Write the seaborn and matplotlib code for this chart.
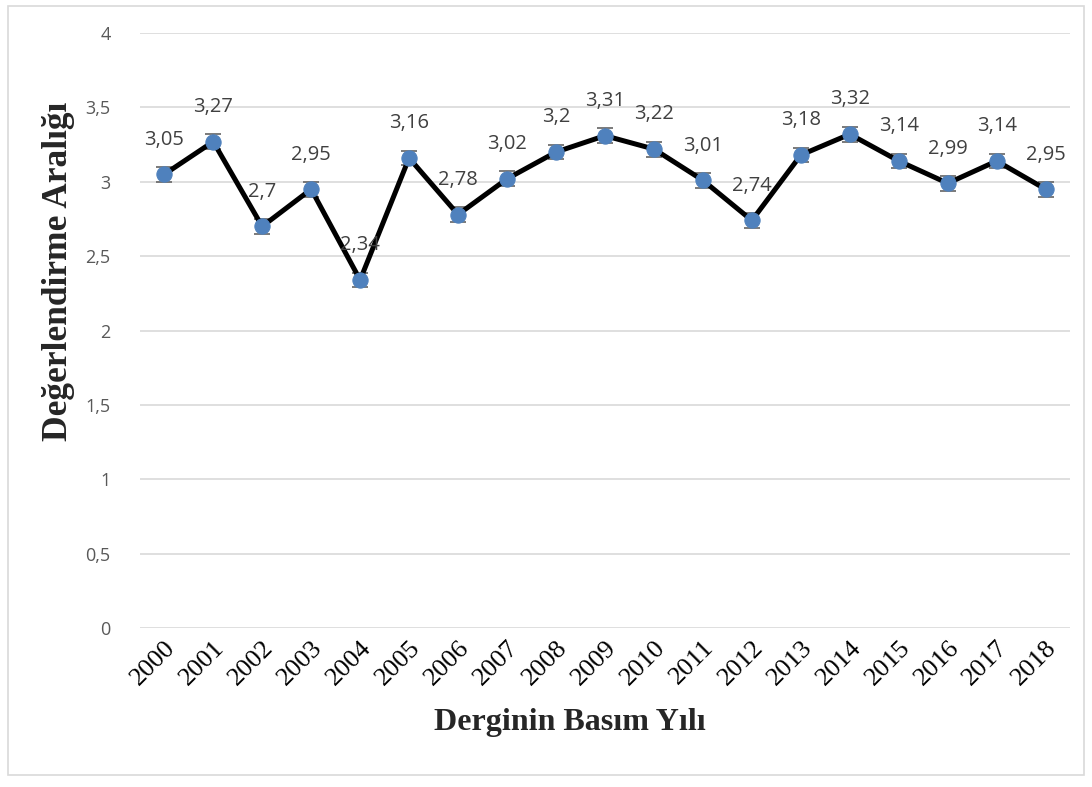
import matplotlib
matplotlib.use("Agg")
import matplotlib.pyplot as plt
import seaborn as sns
import pandas as pd
from matplotlib.patches import Rectangle

years = ["2000", "2001", "2002", "2003", "2004", "2005", "2006", "2007", "2008", "2009",
         "2010", "2011", "2012", "2013", "2014", "2015", "2016", "2017", "2018"]
values = [3.05, 3.27, 2.70, 2.95, 2.34, 3.16, 2.78, 3.02, 3.20, 3.31,
          3.22, 3.01, 2.74, 3.18, 3.32, 3.14, 2.99, 3.14, 2.95]
errors = [0.05] * len(values)
y_ticks = [0, 0.5, 1, 1.5, 2, 2.5, 3, 3.5, 4]

sns.set_theme(style="white")
plt.rcParams['font.family'] = ['Open Sans', 'DejaVu Sans']

df = pd.DataFrame({"year": years, "value": values, "pos": range(len(years))})

fig = plt.figure(figsize=(10.92, 7.87), dpi=100)
ax = fig.add_axes([0.128, 0.202, 0.852, 0.756])

ax.errorbar(df["pos"], df["value"], yerr=errors, fmt="none", ecolor="#6F6F6F",
            elinewidth=1.3, capsize=6, capthick=1.3, zorder=2)
sns.lineplot(data=df, x="pos", y="value", ax=ax, color="black", linewidth=3.6,
             marker="o", markersize=11, markerfacecolor="#4F81BD",
             markeredgecolor="#4F81BD", zorder=3)

def fmt(v):
    s = f"{v:.2f}".rstrip("0").rstrip(".")
    return s.replace(".", ",")

for p, v in zip(df["pos"], df["value"]):
    ax.annotate(fmt(v), (p, v), xytext=(0, 25), textcoords="offset points",
                ha="center", va="center", fontsize=14.5, color="#404040", zorder=4)

ax.set_xlim(-0.5, len(years) - 0.5)
ax.set_ylim(0, 4)
ax.set_yticks(y_ticks)
ax.set_yticklabels([fmt(t) for t in y_ticks])
ax.set_xticks(list(range(len(years))))
ax.set_xticklabels(years)
ax.tick_params(axis="both", length=0)
ax.tick_params(axis="y", pad=21, labelsize=13, labelcolor="#595959")
ax.tick_params(axis="x", pad=6, labelsize=19, labelcolor="black",
               labelfontfamily="Liberation Serif", labelrotation=45)
for lab in ax.get_xticklabels():
    lab.set_ha("right")
    lab.set_rotation_mode("anchor")
    lab.set_fontfamily("Liberation Serif")
    lab.set_fontsize(19)

ax.grid(axis="y", color="#D9D9D9", linewidth=1.2)
ax.grid(axis="x", visible=False)
for s in ax.spines.values():
    s.set_visible(False)
ax.set_axisbelow(True)

ax.set_xlabel("Derginin Basım Yılı", family="Liberation Serif", fontweight="bold",
              fontsize=23)
ax.xaxis.set_label_coords(0.462, -0.135)
ax.set_ylabel("Değerlendirme Aralığı", family="Liberation Serif", fontweight="bold",
              fontsize=25.5)
ax.yaxis.set_label_coords(-0.070, 0.60)

fig.patches.append(Rectangle((0.007, 0.015), 0.986, 0.978, transform=fig.transFigure,
                             fill=False, edgecolor="#D9D9D9", linewidth=1.2))

fig.savefig("out.png", dpi=100, facecolor="white")
